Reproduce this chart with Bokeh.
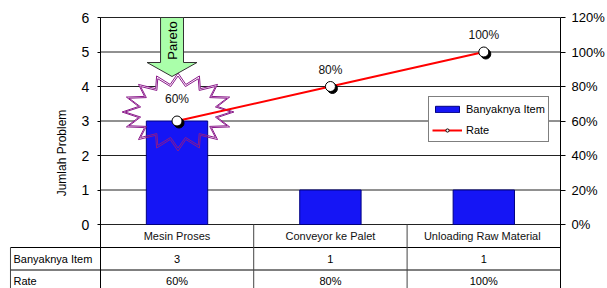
import numpy as np
from bokeh.plotting import figure
from bokeh.models import Range1d, LinearAxis, FixedTicker, NumeralTickFormatter, Legend, LegendItem
from bokeh.transform import dodge
from bokeh.core.properties import value
from bokeh.embed import file_html
from bokeh.resources import INLINE

# ---------------- data ----------------
categories = ["Mesin Proses", "Conveyor ke Palet", "Unloading Raw  Material"]
counts = [3, 1, 1]
rates = [0.60, 0.80, 1.00]
rate_labels = ["60%", "80%", "100%"]
count_labels = ["3", "1", "1"]
left_ticks = [0, 1, 2, 3, 4, 5, 6]
right_ticks = [0.0, 0.2, 0.4, 0.6, 0.8, 1.0, 1.2]
row_headers = ["Banyaknya Item", "Rate"]
series_names = ["Banyaknya Item", "Rate"]
callout_text = "Pareto"

# ---------------- layout constants (pixels) ----------------
FONT = "Liberation Sans"
W, H = 607, 288
FR, FT = 46, 4
frame_w = W - FR
frame_h = H - FT
PL, PT = 100, 17
plot_w = 461
plot_h = 207
n = len(categories)
px_x = plot_w / n
px_y = plot_h / left_ticks[-1]
px_p = plot_h / right_ticks[-1]
below = frame_h - (PT - FT) - plot_h
x_lo = -PL / px_x
y_hi = left_ticks[-1] + (PT - FT) / px_y
y_lo = -below / px_y
p_hi = right_ticks[-1] + (PT - FT) / px_p
p_lo = -below / px_p
row1 = -23 / px_y
row2 = row1 - 22.5 / px_y
row3 = row2 - 22.5 / px_y

xc = [i + 0.5 for i in range(n)]

p = figure(width=W, height=H, output_backend="svg", toolbar_location=None,
           x_range=Range1d(x_lo, n), y_range=Range1d(y_lo, y_hi),
           x_axis_location=None, y_axis_location=None,
           min_border_left=0, min_border_right=FR, min_border_top=FT, min_border_bottom=0,
           outline_line_color=None, background_fill_color="white", border_fill_color="white")
p.extra_y_ranges = {"pct": Range1d(p_lo, p_hi)}

ya = LinearAxis(fixed_location=0, ticker=FixedTicker(ticks=left_ticks),
                axis_label="Jumlah Problem", bounds=(y_lo, left_ticks[-1]))
p.add_layout(ya, "left")
ra = LinearAxis(y_range_name="pct", ticker=FixedTicker(ticks=right_ticks),
                formatter=NumeralTickFormatter(format="0%"), bounds=(p_lo, right_ticks[-1]))
p.add_layout(ra, "right")
for ax in [ya, ra]:
    ax.axis_line_color = "black"
    ax.major_tick_line_color = "black"
    ax.major_tick_in = 0
    ax.minor_tick_line_color = None
    ax.major_label_text_font = FONT
    ax.major_label_text_color = "black"
ya.major_tick_out = 3
ya.major_label_standoff = 8
ya.major_label_text_font_size = "14px"
ra.major_tick_out = 5
ra.major_label_standoff = 6
ra.major_label_text_font_size = "13px"
ya.axis_label_text_font = FONT
ya.axis_label_text_font_size = "12px"
ya.axis_label_text_font_style = "normal"
ya.axis_label_text_color = "black"
ya.axis_label_standoff = 10

p.xgrid.visible = False
p.ygrid.visible = False
p.segment(x0=[0] * len(left_ticks), y0=left_ticks, x1=[n] * len(left_ticks), y1=left_ticks,
          line_color="#222222", line_width=1)

# ---------------- table ----------------
tl = x_lo + 10 / px_x
p.segment(x0=[tl, tl], y0=[row1, row2], x1=[n, n], y1=[row1, row2], line_color="black", line_width=1)
p.segment(x0=list(range(1, n)), y0=0, x1=list(range(1, n)), y1=y_lo, line_color="#444444", line_width=1)
p.segment(x0=[tl], y0=[row1], x1=[tl], y1=[y_lo], line_color="#444444", line_width=1)
p.text(x=xc, y=[row1 / 2] * n, text=categories, text_align="center", text_baseline="middle",
       text_font=value(FONT), text_font_size="11px", text_color="#111111")
p.text(x=[tl + 3 / px_x] * 2, y=[(row1 + row2) / 2, (row2 + row3) / 2], text=row_headers,
       text_align="left", text_baseline="middle", text_font=value(FONT),
       text_font_size="11px", text_color="black")
p.text(x=xc, y=[(row1 + row2) / 2] * n, text=count_labels, text_align="center", text_baseline="middle",
       text_font=value(FONT), text_font_size="11px", text_color="black")
p.text(x=xc, y=[(row2 + row3) / 2] * n, text=rate_labels, text_align="center", text_baseline="middle",
       text_font=value(FONT), text_font_size="11px", text_color="black")

# ---------------- starburst callout around the first point ----------------
k = 16
ang = np.pi / 2 + np.arange(2 * k) * np.pi / k
rfac = np.where(np.arange(2 * k) % 2 == 0, 1.0, 0.72)
cx = xc[0] + 1 / px_x
cy = rates[0] + 9 / px_p

def star(rx, ry):
    return (cx + rx * rfac * np.cos(ang) / px_x,
            cy + ry * rfac * np.sin(ang) / px_p)

sx, sy = star(56, 39)
p.patch(sx, sy, y_range_name="pct", fill_color="white", line_color=None)

bars = p.vbar(x=xc, top=counts, width=0.4, fill_color="#1515F5", line_color="#000080", line_width=1)

sx2, sy2 = star(53, 36)
p.patch(sx, sy, y_range_name="pct", fill_color=None, line_color="#8B1A8B", line_width=1)
p.patch(sx2, sy2, y_range_name="pct", fill_color=None, line_color="#8B1A8B", line_width=1)

# ---------------- line with markers ----------------
line = p.line(xc, rates, y_range_name="pct", line_color="#FF0000", line_width=2)
p.scatter(x=dodge("x", 2 / px_x), y=dodge("y", -2 / px_p),
          source=dict(x=xc, y=rates), y_range_name="pct",
          size=10, fill_color="black", line_color="black")
pts = p.scatter(xc, rates, y_range_name="pct", size=10, fill_color="white",
                line_color="black", line_width=1)

p.text(x=xc[:1], y=rates[:1], text=rate_labels[:1], y_range_name="pct",
       y_offset=-22, text_align="center", text_baseline="middle",
       text_font=value(FONT), text_font_size="12px", text_color="#111111")
p.text(x=xc[1:], y=rates[1:], text=rate_labels[1:], y_range_name="pct",
       y_offset=-17, text_align="center", text_baseline="middle",
       text_font=value(FONT), text_font_size="12px", text_color="#111111")

# ---------------- Pareto arrow ----------------
ax0 = xc[0] - 5 / px_x
top = left_ticks[-1]
sw, hw, sl, hl = 11.5, 25, 45, 14
arr_x = [ax0 - sw / px_x, ax0 + sw / px_x, ax0 + sw / px_x, ax0 + hw / px_x, ax0,
         ax0 - hw / px_x, ax0 - sw / px_x]
arr_y = [top, top, top - sl / px_y, top - sl / px_y, top - (sl + hl) / px_y,
         top - sl / px_y, top - sl / px_y]
p.patch(arr_x, arr_y, fill_color="#AAFFAA", line_color="#333333", line_width=1)
p.text(x=[ax0], y=[top - 23 / px_y], text=[callout_text], angle=np.pi / 2,
       text_align="center", text_baseline="middle", text_font=value(FONT),
       text_font_size="13px", text_color="black")

# ---------------- legend ----------------
legend = Legend(items=[LegendItem(label=series_names[0], renderers=[bars]),
                       LegendItem(label=series_names[1], renderers=[line, pts])],
                location=(428, 146), orientation="vertical")
legend.label_text_font = FONT
legend.label_text_font_size = "11px"
legend.label_text_color = "black"
legend.border_line_color = "black"
legend.border_line_width = 1
legend.background_fill_color = "white"
legend.background_fill_alpha = 1
legend.padding = 3
legend.spacing = 4
legend.margin = 0
legend.glyph_width = 30
legend.glyph_height = 8
legend.label_height = 17
legend.label_standoff = 4
p.add_layout(legend)

open("out.html", "w").write(file_html(p, INLINE))
